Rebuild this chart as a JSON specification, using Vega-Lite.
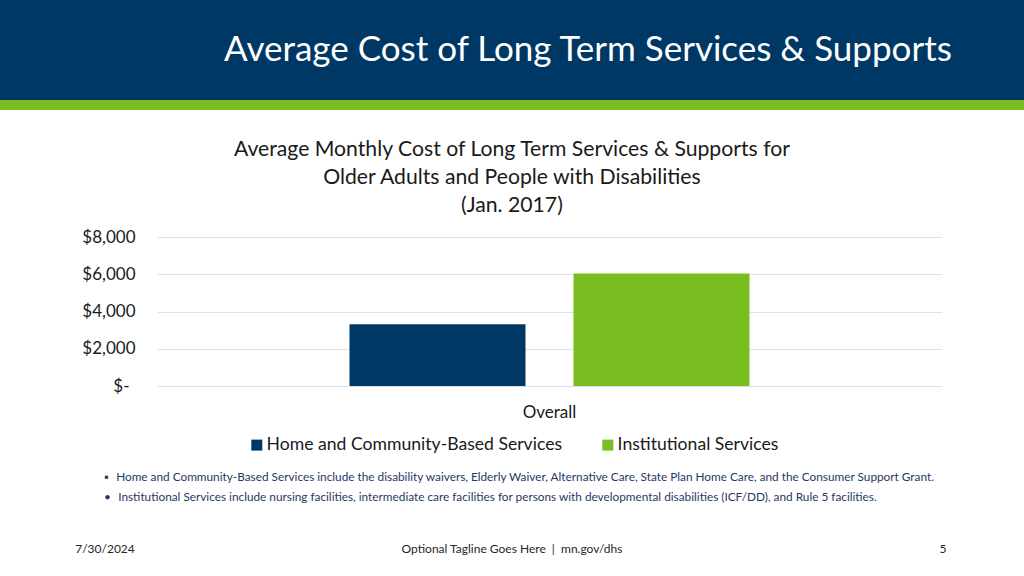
{
  "$schema": "https://vega.github.io/schema/vega-lite/v6.json",
  "padding": 0,
  "spacing": 0,
  "background": "#ffffff",
  "config": {
    "font": "Lato",
    "view": {"stroke": null},
    "concat": {"spacing": 0},
    "title": {"fontWeight": "normal", "subtitleFontWeight": "normal", "font": "Lato", "subtitleFont": "Lato"}
  },
  "vconcat": [
    {
      "hconcat": [
        {"width": 152, "height": 100, "view": {"fill": "#003865", "stroke": null}, "data": {"values": []}, "mark": "text", "encoding": {}},
        {"width": 872, "height": 100, "view": {"fill": "#003865", "stroke": null},
         "data": {"values": [{"t": "Average Cost of Long Term Services & Supports"}]},
         "mark": {"type": "text", "fontSize": 35, "color": "#ffffff"},
         "encoding": {"text": {"field": "t", "type": "nominal"}}}
      ],
      "spacing": 0, "bounds": "flush"
    },
    {"width": 1024, "height": 10, "view": {"fill": "#78BE21", "stroke": null}, "data": {"values": []}, "mark": "text", "encoding": {}},
    {"width": 1024, "height": 28, "data": {"values": []}, "mark": "text", "encoding": {}},
    {
      "hconcat": [
        {"width": 157, "height": 149, "data": {"values": []}, "mark": "text", "encoding": {}},
        {
          "width": 785,
          "height": 149,
          "title": {
            "text": ["Average Monthly Cost of Long Term Services & Supports for", "Older Adults and People with Disabilities", "(Jan. 2017)"],
            "frame": "bounds", "anchor": "middle", "fontSize": 21.2, "lineHeight": 28, "color": "#1a1a1a", "offset": 12
          },
          "data": {"values": [
            {"group": "Overall", "service": "Home and Community-Based Services", "cost": 3310},
            {"group": "Overall", "service": "Institutional Services", "cost": 6040}
          ]},
          "mark": {"type": "bar"},
          "encoding": {
            "x": {"field": "group", "type": "nominal", "title": null,
                  "scale": {"paddingInner": 0, "paddingOuter": 0.48125},
                  "axis": {"labelAngle": 0, "labelFontSize": 17, "labelColor": "#1a1a1a", "labelPadding": 18, "ticks": false, "domain": false, "grid": false}},
            "xOffset": {"field": "service", "type": "nominal",
                        "scale": {"domain": ["Home and Community-Based Services", "Institutional Services"], "paddingInner": 0.2143, "paddingOuter": 0}},
            "y": {"field": "cost", "type": "quantitative", "title": null,
                  "scale": {"domain": [0, 8000]},
                  "axis": {"values": [0, 2000, 4000, 6000, 8000],
                           "labelExpr": "datum.value === 0 ? '$-' : '$' + format(datum.value, ',')",
                           "labelFontSize": 17, "labelColor": "#1a1a1a",
                           "labelPadding": {"condition": {"test": "datum.value === 0", "value": 28}, "value": 22},
                           "ticks": false, "domain": false,
                           "gridColor": "#D9E3F0", "gridWidth": 1}},
            "color": {"field": "service", "type": "nominal",
                      "scale": {"domain": ["Home and Community-Based Services", "Institutional Services"], "range": ["#003865", "#78BE21"]},
                      "legend": {"title": null, "orient": "none", "legendX": 248, "legendY": 436, "direction": "horizontal",
                                 "symbolType": "square", "symbolSize": 121, "symbolStrokeWidth": 0,
                                 "labelFontSize": 17.6, "labelColor": "#1a1a1a", "columnPadding": 36, "labelOffset": 1, "labelLimit": 0}}
          }
        }
      ],
      "spacing": 0, "bounds": "flush"
    },
    {
      "hconcat": [
        {"width": 104, "height": 52, "data": {"values": []}, "mark": "text", "encoding": {}},
        {"width": 900, "height": 52, "data": {"values": []}, "mark": "text", "encoding": {},
         "title": {
           "text": "▪\u2002\u2009Home and Community-Based Services include the disability waivers, Elderly Waiver, Alternative Care, State Plan Home Care, and the Consumer Support Grant.",
           "subtitle": "•\u2002\u2009Institutional Services include nursing facilities, intermediate care facilities for persons with developmental disabilities (ICF/DD), and Rule 5 facilities.",
           "orient": "bottom", "anchor": "start", "frame": "group",
           "fontSize": 11.8, "subtitleFontSize": 11.8, "color": "#1F3864", "subtitleColor": "#1F3864",
           "subtitlePadding": 8, "offset": 0
         }}
      ],
      "spacing": 0, "bounds": "flush"
    },
    {
      "hconcat": [
        {"width": 210, "height": 40, "data": {"values": []}, "mark": "text", "encoding": {},
         "title": {"text": "7/30/2024", "orient": "bottom", "anchor": "middle", "fontSize": 12, "color": "#262626", "offset": 0}},
        {"width": 604, "height": 40, "data": {"values": []}, "mark": "text", "encoding": {},
         "title": {"text": "Optional Tagline Goes Here\u00a0\u00a0|\u00a0\u00a0mn.gov/dhs", "orient": "bottom", "anchor": "middle", "fontSize": 12, "color": "#262626", "offset": 0}},
        {"width": 72, "height": 40, "data": {"values": []}, "mark": "text", "encoding": {}},
        {"width": 114, "height": 40, "data": {"values": []}, "mark": "text", "encoding": {},
         "title": {"text": "5", "orient": "bottom", "anchor": "middle", "fontSize": 12, "color": "#262626", "offset": 0}}
      ],
      "spacing": 0, "bounds": "flush"
    }
  ]
}
